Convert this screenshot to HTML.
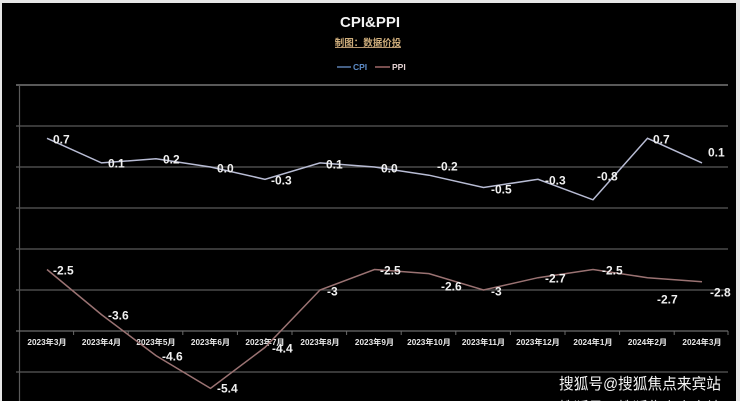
<!DOCTYPE html>
<html><head><meta charset="utf-8"><style>
html,body{margin:0;padding:0;background:#ececec;}
body{width:740px;height:401px;overflow:hidden;position:relative;}
svg{position:absolute;left:0;top:0;}
</style></head><body>
<svg width="740" height="401" viewBox="0 0 740 401" xmlns="http://www.w3.org/2000/svg">
<rect x="0" y="0" width="740" height="401" fill="#e6e6e6"/>
<rect x="2" y="3" width="734" height="398" fill="#000"/>
<!-- title -->
<text x="370" y="27" text-anchor="middle" font-family="Liberation Sans, sans-serif" font-weight="bold" font-size="15" fill="#f2f2f2">CPI&amp;PPI</text>
<text x="368" y="46" text-anchor="middle" font-family="Liberation Sans, 'Noto Sans CJK SC', sans-serif" font-weight="bold" font-size="9.5" fill="#cfae7c">制图：数据价投</text>
<line x1="335" y1="47.5" x2="401" y2="47.5" stroke="#b89870" stroke-width="1"/>
<!-- legend -->
<line x1="337" y1="67" x2="351" y2="67" stroke="#5a7fb0" stroke-width="1.5"/>
<text x="353" y="70" font-family="Liberation Sans, sans-serif" font-weight="bold" font-size="8.5" fill="#5d8cc8">CPI</text>
<line x1="375" y1="67" x2="390" y2="67" stroke="#a06868" stroke-width="1.5"/>
<text x="392" y="70" font-family="Liberation Sans, sans-serif" font-weight="bold" font-size="8.5" fill="#e4d2d2">PPI</text>
<!-- gridlines -->
<g stroke="#5a5a5a" stroke-width="1.2">
<line x1="16" y1="85" x2="728" y2="85" stroke="#666" stroke-width="1.8"/>
<line x1="16" y1="126" x2="728" y2="126"/>
<line x1="16" y1="167" x2="728" y2="167"/>
<line x1="16" y1="208" x2="728" y2="208"/>
<line x1="16" y1="249" x2="728" y2="249"/>
<line x1="16" y1="290" x2="728" y2="290"/>
<line x1="16" y1="372" x2="728" y2="372"/>
</g>
<line x1="19.5" y1="85" x2="19.5" y2="401" stroke="#5a5a5a" stroke-width="1.2"/>
<!-- category axis -->
<line x1="16" y1="331" x2="728" y2="331" stroke="#6a6a6a" stroke-width="1.3"/>
<g stroke="#6a6a6a" stroke-width="1">
<line x1="73.6" y1="331" x2="73.6" y2="335"/>
<line x1="128.2" y1="331" x2="128.2" y2="335"/>
<line x1="182.8" y1="331" x2="182.8" y2="335"/>
<line x1="237.4" y1="331" x2="237.4" y2="335"/>
<line x1="292" y1="331" x2="292" y2="335"/>
<line x1="346.6" y1="331" x2="346.6" y2="335"/>
<line x1="401.2" y1="331" x2="401.2" y2="335"/>
<line x1="455.8" y1="331" x2="455.8" y2="335"/>
<line x1="510.4" y1="331" x2="510.4" y2="335"/>
<line x1="565" y1="331" x2="565" y2="335"/>
<line x1="619.6" y1="331" x2="619.6" y2="335"/>
<line x1="674.2" y1="331" x2="674.2" y2="335"/>
<line x1="728" y1="331" x2="728" y2="335"/>
</g>
<g font-family="Liberation Sans, 'Noto Sans CJK SC', sans-serif" font-weight="bold" font-size="8.2" fill="#e8e8e8" text-anchor="middle">
<text x="47" y="345">2023年3月</text>
<text x="101.5" y="345">2023年4月</text>
<text x="156" y="345">2023年5月</text>
<text x="210.5" y="345">2023年6月</text>
<text x="265" y="345">2023年7月</text>
<text x="320" y="345">2023年8月</text>
<text x="374.5" y="345">2023年9月</text>
<text x="429" y="345">2023年10月</text>
<text x="483.5" y="345">2023年11月</text>
<text x="538" y="345">2023年12月</text>
<text x="593" y="345">2024年1月</text>
<text x="647.5" y="345">2024年2月</text>
<text x="702" y="345">2024年3月</text>
</g>
<!-- CPI line -->
<polyline fill="none" stroke="#b8bcd4" stroke-width="1.5" points="47,138.3 101.5,162.9 156,158.8 210.5,167 265,179.3 320,162.9 374.5,167 429,175.2 483.5,187.5 538,179.3 593,199.8 647.5,138.3 702,162.9"/>
<!-- PPI line -->
<polyline fill="none" stroke="#9a7272" stroke-width="1.5" points="47,269.5 101.5,314.6 156,355.6 210.5,388.4 265,347.4 320,290 374.5,269.5 429,273.6 483.5,290 538,277.7 593,269.5 647.5,277.7 702,281.8"/>
<!-- CPI labels -->
<g font-family="Liberation Sans, sans-serif" font-weight="bold" font-size="12" fill="#f0f0f0">
<text x="53" y="143.5">0.7</text>
<text x="108" y="167.5">0.1</text>
<text x="163" y="163.5">0.2</text>
<text x="217" y="172.5">0.0</text>
<text x="271" y="184.5">-0.3</text>
<text x="326" y="168.5">0.1</text>
<text x="381" y="172.5">0.0</text>
<text x="437" y="170.5">-0.2</text>
<text x="491" y="193.5">-0.5</text>
<text x="545" y="184.5">-0.3</text>
<text x="597" y="180.5">-0.8</text>
<text x="653" y="143.5">0.7</text>
<text x="708" y="156.5">0.1</text>
<!-- PPI labels -->
<text x="53" y="274.5">-2.5</text>
<text x="108" y="319.5">-3.6</text>
<text x="162" y="360.5">-4.6</text>
<text x="217" y="392.5">-5.4</text>
<text x="272" y="352.5">-4.4</text>
<text x="327" y="295.5">-3</text>
<text x="380" y="274.5">-2.5</text>
<text x="441" y="290.5">-2.6</text>
<text x="491" y="295.5">-3</text>
<text x="545" y="282.5">-2.7</text>
<text x="602" y="274.5">-2.5</text>
<text x="657" y="303.5">-2.7</text>
<text x="710" y="296.5">-2.8</text>
</g>
<!-- watermark -->
<text x="559" y="389" textLength="162" lengthAdjust="spacingAndGlyphs" font-family="Liberation Sans, 'Noto Sans CJK SC', sans-serif" font-size="15.5" fill="#f4f4f4">搜狐号@搜狐焦点来宾站</text>
<text x="559" y="413" textLength="162" lengthAdjust="spacingAndGlyphs" font-family="Liberation Sans, 'Noto Sans CJK SC', sans-serif" font-size="15.5" fill="#cfcfcf">搜狐号@搜狐焦点来宾站</text>
</svg>
</body></html>
